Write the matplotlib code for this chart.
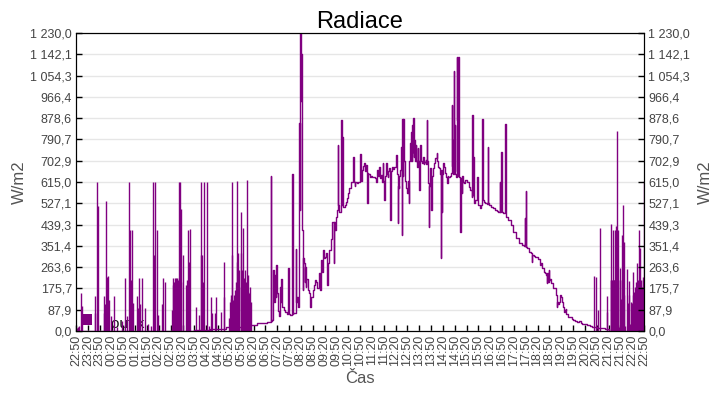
"""
Radiace chart: 24 h of solar radiation (W/m2), 22:50 to 22:50.
"""
import matplotlib
matplotlib.use('Agg')  # no display
import matplotlib.pyplot as plt

# minutes after 22:50 and measured value (W/m2) of the continuous trace
curve_min = [0, 200, 300, 340, 380, 430, 460, 485, 494, 495, 498, 500, 502, 504, 506, 508, 509, 511, 514,
             517, 519, 520, 522, 526, 531, 535, 538, 539, 543, 548, 549, 551, 557, 558, 560, 562, 564, 566,
             567, 568, 570, 571, 572, 573, 575, 576, 578, 580, 581, 583, 584, 587, 590, 593, 596, 598, 601,
             603, 606, 609, 612, 615, 617, 619, 620, 623, 625, 627, 629, 631, 634, 637, 638, 640, 642, 644,
             646, 648, 650, 652, 653, 654, 656, 658, 661, 663, 664, 665, 667, 669, 672, 673, 674, 675, 676,
             678, 681, 685, 688, 690, 693, 696, 699, 701, 703, 704, 706, 708, 712, 716, 719, 721, 722, 725,
             728, 730, 732, 734, 737, 738, 739, 741, 745, 748, 750, 754, 757, 761, 763, 766, 768, 770, 772,
             775, 777, 779, 782, 783, 786, 788, 790, 792, 794, 796, 797, 798, 800, 804, 807, 810, 812, 814,
             815, 816, 818, 820, 821, 823, 825, 826, 827, 828, 830, 831, 833, 835, 837, 839, 841, 843, 845,
             846, 848, 849, 851, 852, 854, 855, 857, 858, 860, 861, 863, 864, 866, 868, 870, 871, 872, 874,
             876, 879, 881, 883, 886, 888, 889, 890, 892, 894, 895, 897, 899, 901, 903, 905, 908, 911, 914,
             916, 918, 921, 923, 924, 925, 927, 928, 930, 933, 936, 938, 940, 942, 944, 948, 950, 952, 953,
             955, 956, 958, 959, 961, 962, 963, 965, 966, 967, 968, 969, 970, 972, 974, 975, 978, 979, 980,
             982, 984, 987, 991, 995, 999, 1003, 1005, 1006, 1007, 1008, 1010, 1012, 1014, 1016, 1017, 1018,
             1020, 1024, 1026, 1028, 1029, 1030, 1031, 1034, 1038, 1042, 1044, 1045, 1048, 1052, 1057, 1062,
             1066, 1071, 1074, 1075, 1076, 1078, 1079, 1082, 1087, 1088, 1089, 1090, 1091, 1096, 1102, 1108,
             1115, 1122, 1130, 1136, 1138, 1139, 1140, 1141, 1144, 1149, 1153, 1156, 1157, 1160, 1164, 1170,
             1175, 1178, 1181, 1185, 1187, 1190, 1192, 1193, 1194, 1196, 1198, 1199, 1201, 1204, 1206, 1210,
             1214, 1216, 1219, 1220, 1223, 1225, 1228, 1230, 1231, 1234, 1237, 1239, 1241, 1243, 1246, 1250,
             1253, 1257, 1261, 1265, 1269, 1272, 1276, 1279, 1282, 1286, 1290, 1295, 1299, 1304, 1308, 1312,
             1320, 1330, 1340, 1350, 1440]
curve_val = [0, 0, 2, 6, 15, 23, 33, 38, 638, 40, 45, 251, 120, 230, 140, 271, 155, 80, 60,
             180, 120, 216, 100, 87, 79, 70, 261, 70, 65, 649, 70, 72, 340, 120, 141, 100, 168, 859,
             500, 1230, 950, 1142, 600, 417, 168, 300, 279, 200, 265, 180, 216, 170, 155, 100, 140, 141, 170,
             190, 210, 200, 175, 210, 237, 168, 292, 244, 327, 334, 299, 306, 320, 189, 224, 279, 334, 334,
             380, 417, 451, 451, 279, 451, 417, 472, 499, 520, 769, 520, 492, 492, 520, 870, 520, 803, 513,
             513, 520, 534, 550, 569, 590, 615, 615, 640, 720, 615, 600, 615, 612, 615, 620, 731, 620, 664,
             680, 692, 660, 685, 664, 527, 651, 650, 637, 640, 637, 637, 630, 615, 664, 640, 678, 630, 644,
             615, 692, 620, 541, 640, 692, 650, 637, 660, 671, 650, 458, 660, 678, 670, 678, 720, 727, 650,
             447, 600, 589, 640, 664, 700, 761, 396, 876, 640, 876, 700, 664, 620, 589, 569, 620, 527, 700,
             775, 700, 823, 700, 851, 740, 879, 720, 789, 700, 768, 700, 678, 755, 700, 582, 680, 768, 700,
             692, 720, 690, 699, 706, 690, 872, 700, 609, 430, 600, 671, 640, 499, 640, 671, 692, 713, 734,
             700, 678, 671, 650, 299, 664, 493, 650, 692, 678, 651, 637, 609, 640, 637, 640, 651, 934, 680,
             789, 650, 1073, 660, 851, 650, 637, 1130, 700, 872, 640, 1130, 650, 637, 410, 630, 569, 640, 623,
             615, 609, 623, 615, 596, 582, 555, 892, 560, 720, 560, 527, 540, 541, 560, 637, 540,
             520, 506, 520, 875, 600, 875, 540, 534, 527, 525, 761, 527, 520, 513, 508, 499,
             495, 492, 490, 615, 490, 741, 490, 485, 485, 854, 480, 664, 470, 458, 437, 410,
             382, 361, 354, 350, 465, 350, 578, 345, 341, 327, 320, 286, 313, 310, 306, 295,
             272, 279, 258, 258, 244, 237, 230, 196, 237, 203, 251, 210, 216, 196, 196, 175,
             175, 150, 100, 120, 110, 120, 148, 140, 120, 100, 79, 85, 89, 70, 58, 56,
             55, 48, 44, 40, 37, 35, 41, 33, 30, 29, 28, 25, 23, 20, 17, 15,
             12, 10, 8, 0, 0]

# isolated readings at night (minutes after 22:50, W/m2), drawn from zero
spike_min = [3, 5, 8, 12, 14, 47, 48, 54, 56, 70, 72, 73, 76, 79, 81, 83, 88, 95, 105, 117, 124, 130,
             135, 138, 140, 143, 145, 154, 158, 160, 163, 168, 174, 182, 189, 196, 198, 201, 205, 208,
             219, 221, 225, 243, 245, 247, 249, 250, 252, 254, 256, 258, 260, 262, 264, 266, 267, 271,
             279, 281, 283, 286, 288, 304, 313, 316, 318, 320, 323, 325, 333, 338, 343, 345, 352, 355,
             368, 374, 376, 389, 390, 392, 394, 395, 396, 398, 400, 402, 404, 406, 407, 409, 411, 412,
             414, 417, 419, 421, 422, 424, 426, 427, 429, 431, 432, 434, 436, 437, 439, 442, 444,
             1313, 1318, 1324, 1329, 1345, 1347, 1355, 1356, 1357, 1359, 1361, 1363, 1365, 1366, 1367,
             1369, 1371, 1373, 1374, 1376, 1378, 1380, 1381, 1383, 1384, 1386, 1388, 1390, 1392, 1397,
             1399, 1401, 1403, 1405, 1407, 1409, 1411, 1412, 1414, 1416, 1418, 1419, 1421, 1423, 1424,
             1425, 1427, 1428, 1430, 1432, 1434, 1435, 1437, 1438, 1439]
spike_val = [10, 17, 20, 156, 104, 144, 72, 615, 516, 72, 144, 110, 537, 221, 226, 127, 60, 144, 17, 40,
             217, 60, 615, 417, 212, 417, 114, 144, 93, 217, 110, 217, 93, 30, 20, 615, 313, 615, 417, 67,
             110, 217, 203, 86, 190, 217, 200, 203, 217, 217, 217, 210, 615, 217, 615, 200, 504, 313,
             190, 212, 417, 284, 420, 100, 64, 313, 615, 313, 203, 615, 615, 20, 141, 72, 72, 141,
             79, 141, 286, 52, 120, 148, 130, 313, 615, 127, 150, 140, 168, 200, 286, 618, 320, 180,
             251, 320, 490, 251, 200, 423, 182, 220, 251, 155, 200, 625, 230, 160, 155, 182, 120,
             226, 223, 86, 423, 144, 79, 210, 441, 210, 210, 417, 210, 210, 417, 210,
             432, 824, 417, 210, 15, 258, 210, 130, 396, 210, 520, 368, 150, 20, 254,
             113, 150, 207, 30, 120, 113, 244, 148, 160, 150, 180, 200, 279, 120, 160,
             210, 200, 417, 341, 210, 150, 180, 223, 210, 620]

# early night: reading flickers between two levels
band_min = [18, 41]
band_low = [25, 25]
band_high = [69, 69]

tick_labels = ['22:50', '23:20', '23:50', '00:20', '00:50', '01:20', '01:50', '02:20', '02:50',
               '03:20', '03:50', '04:20', '04:50', '05:20', '05:50', '06:20', '06:50', '07:20',
               '07:50', '08:20', '08:50', '09:20', '09:50', '10:20', '10:50', '11:20', '11:50',
               '12:20', '12:50', '13:20', '13:50', '14:20', '14:50', '15:20', '15:50', '16:20',
               '16:50', '17:20', '17:50', '18:20', '18:50', '19:20', '19:50', '20:20', '20:50',
               '21:20', '21:50', '22:20', '22:50']
y_labels = ['0,0', '87,9', '175,7', '263,6', '351,4', '439,3', '527,1', '615,0', '702,9',
            '790,7', '878,6', '966,4', '1 054,3', '1 142,1', '1 230,0']
y_max = 1230.0


def main():
    plt.rcParams['font.family'] = ['Liberation Sans', 'DejaVu Sans']
    color = '#800080'
    tick_color = '#444444'

    fig = plt.figure(figsize=(7.2, 4.0), dpi=100)
    ax = fig.add_axes([0.1056, 0.173, 0.7889, 0.744])

    ax.text(88, 12, 'ouf k', fontsize=11, color='#111111', zorder=1)
    ax.fill_between(band_min, band_low, band_high, color=color, linewidth=0, zorder=2)
    ax.vlines(spike_min, 0, spike_val, color=color, linewidth=1.0, zorder=2)
    ax.plot(curve_min, curve_val, color=color, linewidth=1.0, drawstyle='steps-post', zorder=3)

    x_ticks = [30 * i for i in range(len(tick_labels))]
    y_ticks = [y_max * i / (len(y_labels) - 1) for i in range(len(y_labels))]

    ax.set_xlim(0, x_ticks[-1])
    ax.set_ylim(0, y_max)
    ax.set_xticks(x_ticks)
    ax.set_xticklabels(tick_labels, rotation=90, fontsize=9, color=tick_color)
    ax.set_yticks(y_ticks)
    ax.set_yticklabels(y_labels, fontsize=9, color=tick_color)
    ax.tick_params(direction='in', length=4, width=1, pad=3)
    ax.grid(axis='y', color='#e6e6e6', linewidth=1)
    ax.set_axisbelow(True)
    ax.set_xlabel('Čas', fontsize=12, color='#555555', labelpad=3)
    ax.set_ylabel('W/m2', fontsize=12, color='#555555', labelpad=2)
    ax.set_title('Radiace', fontsize=17, pad=3)

    ax2 = ax.twinx()
    ax2.set_ylim(0, y_max)
    ax2.set_yticks(y_ticks)
    ax2.set_yticklabels(y_labels, fontsize=9, color=tick_color)
    ax2.tick_params(direction='in', length=4, width=1, pad=3)
    ax2.set_ylabel('W/m2', fontsize=12, color='#555555', labelpad=6)

    fig.savefig('out.png', dpi=100)
    plt.close(fig)


if __name__ == '__main__':
    main()
